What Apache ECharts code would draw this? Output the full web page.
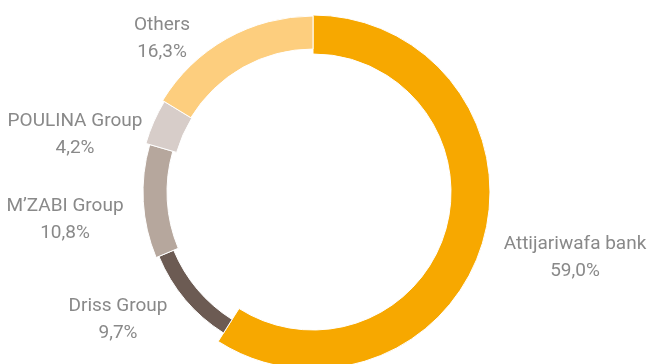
<!DOCTYPE html>
<html>
<head>
<meta charset="utf-8">
<script src="https://cdn.jsdelivr.net/npm/echarts@6/dist/echarts.min.js"></script>
<style>
html,body{margin:0;padding:0;background:#fff;}
#chart{width:650px;height:364px;}
</style>
</head>
<body>
<div id="chart"></div>
<script>
// Data (clockwise from 12 o'clock)
const categories = ['Attijariwafa bank', 'Driss Group', 'M\u2019ZABI Group', 'POULINA Group', 'Others'];
const shares = [59.0, 9.7, 10.8, 4.2, 16.3];

// Styles
const colors = ['#F7A800', '#6C5B53', '#B6A79D', '#D7CDC9', '#FDCE7E'];
const innerR = [138, 151, 146, 142, 143];
const outerR = [177, 167, 170, 174, 176];
const center = [313, 192];
// label block centre, offset from pie centre (px)
const labelOffset = [[262, 66], [-195, 128], [-248, 28], [-238, -57], [-151, -153]];

const chart = echarts.init(document.getElementById('chart'), null, {renderer: 'canvas'});

const series = categories.map(function (nm, k) {
  return {
    type: 'pie',
    center: center,
    radius: [innerR[k], outerR[k]],
    startAngle: 90,
    clockwise: true,
    silent: true,
    animation: false,
    avoidLabelOverlap: false,
    emphasis: {disabled: true},
    label: k === 0 ? {
      show: true,
      position: 'outside',
      formatter: function (p) { return p.name + '\n' + p.value.toFixed(1).replace('.', ',') + '%'; },
      fontFamily: 'Roboto, "Liberation Sans", sans-serif',
      fontSize: 19,
      lineHeight: 27,
      color: '#898989',
      align: 'center'
    } : {show: false},
    labelLine: {show: false},
    labelLayout: k === 0 ? function (p) {
      const o = labelOffset[p.dataIndex];
      return {x: center[0] + o[0], y: center[1] + o[1], align: 'center', verticalAlign: 'middle', moveOverlap: null};
    } : null,
    data: categories.map(function (n, i) {
      return {
        name: n,
        value: shares[i],
        itemStyle: i === k
          ? {color: colors[i], borderColor: '#ffffff', borderWidth: 1}
          : {color: 'rgba(0,0,0,0)', borderWidth: 0}
      };
    })
  };
});

chart.setOption({
  backgroundColor: '#ffffff',
  animation: false,
  series: series
});
</script>
</body>
</html>
